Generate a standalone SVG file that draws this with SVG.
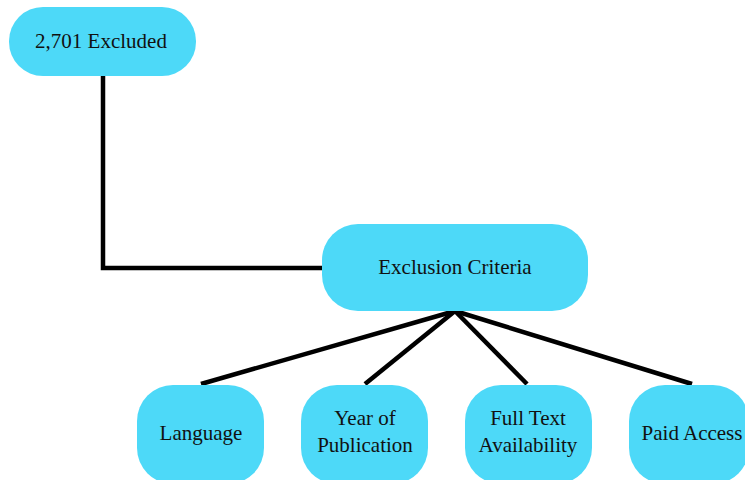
<svg xmlns="http://www.w3.org/2000/svg" width="745" height="480" viewBox="0 0 745 480">
<style>
.node{fill:#4dd9f8;}
.lbl{font-family:"Liberation Serif","Times New Roman",serif;font-size:21px;fill:#111;text-anchor:middle;}
.edge{stroke:#000;stroke-width:4.5;fill:none;stroke-linecap:butt;}
</style>
<rect width="745" height="480" fill="#fff"/>
<g id="connectors">
<polyline class="edge" points="103,76 103,268 323,268"/>
<line class="edge" x1="455" y1="311" x2="201" y2="384"/>
<line class="edge" x1="455" y1="311" x2="365" y2="384"/>
<line class="edge" x1="455" y1="311" x2="527" y2="384"/>
<line class="edge" x1="455" y1="311" x2="692" y2="384"/>
</g>
<g id="excluded">
<rect class="node" x="9" y="7" width="187" height="69" rx="34"/>
<text class="lbl" x="101" y="48">2,701 Excluded</text>
</g>
<g id="criteria">
<rect class="node" x="322" y="224" width="266" height="87" rx="36"/>
<text class="lbl" x="455" y="274">Exclusion Criteria</text>
</g>
<g id="language">
<rect class="node" x="137" y="385" width="127" height="99" rx="36"/>
<text class="lbl" x="201" y="440">Language</text>
</g>
<g id="year">
<rect class="node" x="301" y="385" width="127" height="99" rx="36"/>
<text class="lbl" x="365" y="425">Year of</text>
<text class="lbl" x="365" y="452">Publication</text>
</g>
<g id="fulltext">
<rect class="node" x="465" y="385" width="127" height="99" rx="36"/>
<text class="lbl" x="528" y="425">Full Text</text>
<text class="lbl" x="528" y="452">Availability</text>
</g>
<g id="paid">
<rect class="node" x="629" y="385" width="120" height="99" rx="36"/>
<text class="lbl" x="692" y="440">Paid Access</text>
</g>
</svg>
